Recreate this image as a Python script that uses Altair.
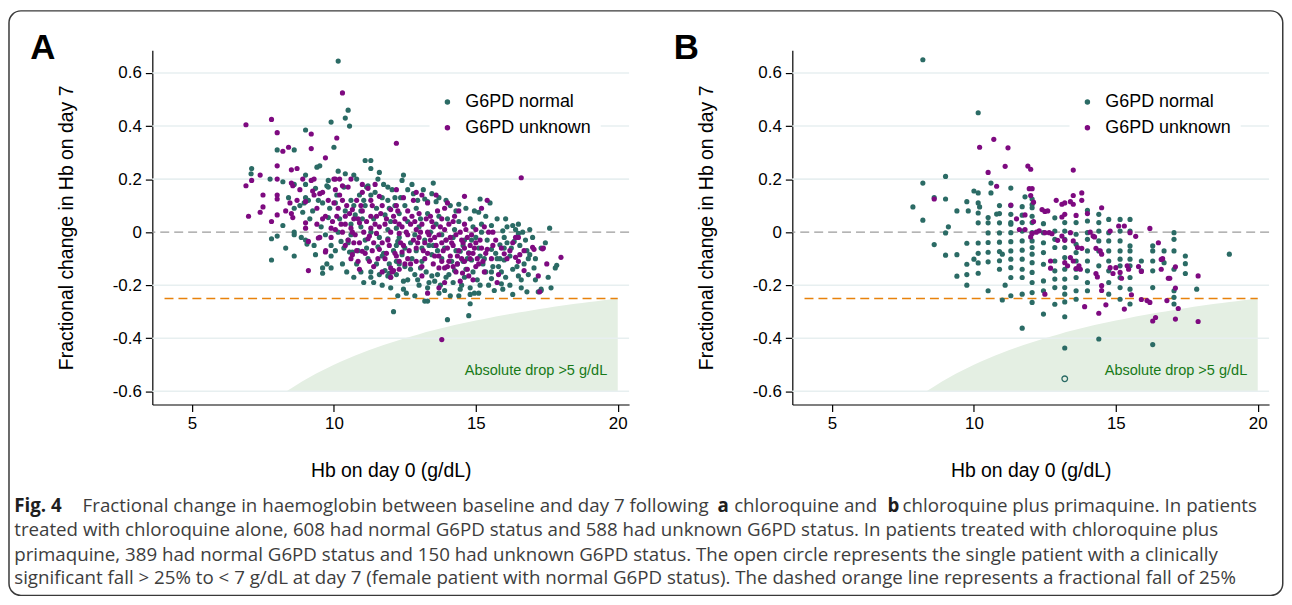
import altair as alt
import pandas as pd

# ---------------- data ----------------
STATUS = ["G6PD normal", "G6PD unknown"]
X_TICKS = [5, 10, 15, 20]
Y_TICKS = [-0.6, -0.4, -0.2, 0, 0.2, 0.4, 0.6]
GRID_VALUES = [-0.6, -0.4, -0.2, 0.2, 0.4, 0.6]
ZERO_VALUE = [0]
FALL_25 = [-0.25]
FALL_25_HB = [4.03, 20.0]
DROP_LIMIT = 5.0          # absolute drop of 5 g/dL -> fractional change of -5/Hb
DROP_FLOOR = -0.6
DROP_HB = [8.33, 8.5, 8.75, 9.0, 9.25, 9.5, 9.75, 10.0, 10.5, 11.0, 11.5, 12.0, 12.5,
           13.0, 13.5, 14.0, 14.5, 15.0, 15.5, 16.0, 16.5, 17.0, 17.5, 18.0, 18.5,
           19.0, 19.5, 20.0]
DROP_LABEL = "Absolute drop >5 g/dL"
DROP_LABEL_POS = [(19.63, -0.525)]
X_TITLE = "Hb on day 0 (g/dL)"
Y_TITLE = "Fractional change in Hb on day 7"

A_NORMAL = [
    (10.15, 0.645), (10.5, 0.46), (10.4, 0.43), (10.55, 0.40), (9.9, 0.415), (10.0, 0.32), (9.0, 0.385),
    (8.0, 0.31), (8.6, 0.31), (7.1, 0.24), (7.08, 0.22), (8.2, 0.19), (9.4, 0.245), (9.5, 0.25), (11.1, 0.27),
    (11.3, 0.27), (11.3, 0.24), (11.6, 0.225), (10.15, 0.23), (10.4, 0.22), (10.7, 0.215), (10.8, 0.2),
    (9.8, 0.195), (9.0, 0.215), (9.0, 0.18), (8.6, 0.18), (9.75, 0.175), (9.35, 0.165), (9.0, 0.13),
    (8.8, 0.10), (8.6, 0.09), (11.2, 0.175), (11.9, 0.17), (12.05, 0.16),
    (7.8, -0.025), (8.0, -0.015), (7.8, -0.105), (8.2, 0.025), (8.6, 0.0), (8.6, -0.01), (8.6, -0.09),
    (9.0, -0.03), (9.05, -0.045), (8.9, 0.075), (9.1, 0.12), (9.35, -0.085), (9.6, -0.135), (9.6, -0.155),
    (9.75, -0.12), (9.9, -0.135), (9.9, -0.09), (9.9, -0.05), (10.25, -0.035), (10.5, -0.04), (10.55, -0.075),
    (10.85, -0.07), (11.3, -0.15), (11.3, -0.17), (11.7, -0.2), (12.1, -0.3), (11.9, -0.165), (12.0, -0.17),
    (12.2, -0.11), (11.7, -0.09), (10.65, -0.075), (10.5, -0.03), (10.15, 0.0), (9.8, 0.055), (9.8, 0.17),
    (11.15, 0.17), (11.9, 0.12), (12.15, 0.13), (10.9, 0.14), (9.6, 0.11), (9.25, 0.08), (8.95, 0.11),
    (10.05, 0.11), (10.4, 0.08), (10.75, 0.065), (11.1, 0.1), (11.5, 0.09), (11.8, 0.065), (12.0, 0.04),
    (12.2, 0.015), (10.95, 0.02), (10.6, -0.01), (11.15, -0.06), (11.55, -0.055), (11.9, -0.025),
    (11.75, -0.08), (12.1, -0.07), (12.25, -0.035),
    (12.45, 0.215), (12.4, 0.195), (12.75, 0.18), (13.5, 0.185), (13.45, 0.145), (12.8, 0.145), (13.2, 0.125),
    (13.3, 0.115), (13.6, 0.115), (14.1, 0.1), (14.4, 0.105), (15.15, 0.125), (15.5, 0.11), (15.1, 0.075),
    (15.2, 0.03), (15.55, 0.025), (15.95, 0.005), (16.3, 0.025), (16.5, 0.03), (16.65, 0.0), (16.5, -0.005),
    (17.6, 0.015), (16.35, -0.035), (16.1, -0.04), (16.0, -0.06), (15.75, -0.1), (15.85, -0.1), (16.0, -0.105),
    (16.3, -0.14), (16.5, -0.165), (16.8, -0.07), (16.9, -0.085), (17.05, -0.135), (17.8, -0.135),
    (17.85, -0.125), (17.3, -0.215), (17.2, -0.225), (16.8, -0.225), (16.6, -0.21), (16.3, -0.235),
    (15.95, -0.215), (15.9, -0.195), (15.55, -0.15), (15.55, -0.175), (15.35, -0.15), (15.15, -0.2),
    (15.1, -0.23), (14.95, -0.23), (14.8, -0.21), (14.8, -0.235), (14.45, -0.215), (14.4, -0.24),
    (14.1, -0.24), (14.0, -0.33), (14.75, -0.315), (13.3, -0.21), (13.2, -0.26), (12.85, -0.24),
    (12.45, -0.215), (12.45, -0.185), (11.8, -0.145), (11.95, -0.155), (12.3, -0.12), (12.7, -0.14),
    (13.05, -0.135), (13.45, -0.165), (13.55, -0.185), (13.95, -0.17), (14.25, -0.145), (14.55, -0.11),
    (14.85, -0.105), (15.1, -0.06), (15.55, -0.065), (15.85, -0.048), (12.4, -0.085), (12.75, -0.1),
    (13.1, -0.11), (13.45, -0.085), (13.8, -0.1), (14.15, -0.11), (14.45, -0.072), (14.75, -0.078),
    (12.5, 0.1), (12.9, 0.09), (13.3, 0.07), (13.7, 0.06), (14.0, 0.05), (14.4, 0.04), (14.8, 0.05),
    (12.6, 0.04), (13.0, 0.02), (13.4, 0.0), (13.8, -0.01), (14.2, -0.02), (14.6, -0.03), (15.0, -0.02),
    (12.3, -0.02), (12.7, -0.04), (13.1, -0.06), (13.5, -0.05), (13.9, -0.06), (14.3, -0.07), (14.7, -0.1),
    (15.3, -0.1), (15.6, -0.13), (15.2, 0.0), (11.4, 0.05), (11.0, 0.05), (10.6, 0.03), (10.2, 0.05),
    (11.3, 0.14), (11.7, 0.13), (12.3, 0.07), (10.3, -0.12), (10.8, -0.12), (11.2, -0.1), (11.4, -0.19),
    (12.0, -0.21), (12.6, -0.18), (13.0, -0.2), (13.7, -0.23), (14.2, -0.19), (14.6, -0.17), (15.9, -0.15),
    (16.2, -0.09), (16.7, -0.12), (17.1, -0.18), (16.1, 0.02), (16.9, 0.01), (17.3, -0.06), (14.9, 0.02),
    (13.6, 0.03), (13.2, -0.03), (12.9, -0.07), (11.1, -0.03), (13.3, -0.26), (14.8, -0.27), (17.3, -0.22),
    (9.55, 0.02), (9.7, -0.01), (9.85, 0.09), (10.1, 0.14), (10.35, 0.17), (10.6, 0.12), (10.7, 0.1),
    (10.95, 0.08), (11.05, 0.12), (11.45, 0.15), (11.55, 0.2), (11.75, 0.18), (11.95, 0.09), (12.15, 0.1),
    (12.35, 0.13), (12.6, 0.16), (12.95, 0.12), (13.15, 0.16), (13.7, 0.13), (13.95, 0.12), (14.3, 0.08),
    (14.65, 0.09), (14.95, 0.08), (15.35, 0.06), (15.75, 0.05), (16.05, 0.05), (16.4, 0.01), (16.75, -0.03),
    (17.0, -0.02), (17.45, -0.04),
    (10.05, -0.07), (10.35, -0.06), (10.45, -0.15), (10.7, -0.17), (10.95, -0.15), (11.05, -0.19),
    (11.5, -0.12), (11.6, -0.16), (11.95, -0.12), (12.2, -0.16), (12.25, -0.24), (12.5, -0.13),
    (12.55, -0.23), (12.85, -0.16), (12.95, -0.18), (13.25, -0.15), (13.35, -0.19), (13.65, -0.16),
    (13.75, -0.2), (13.9, -0.22), (14.05, -0.16), (14.35, -0.12), (14.5, -0.2), (14.65, -0.14),
    (14.9, -0.15), (15.05, -0.18), (15.25, -0.12), (15.45, -0.2), (15.65, -0.22), (15.8, -0.13),
    (16.05, -0.17), (16.2, -0.2), (16.45, -0.13), (16.6, -0.18), (16.85, -0.16), (17.1, -0.1),
    (17.55, -0.17), (17.65, -0.21),
    (11.3, 0.0), (11.6, -0.02), (11.9, 0.01), (12.2, -0.05), (12.5, -0.06), (12.85, -0.01), (13.05, 0.05),
    (13.35, -0.05), (13.65, -0.07), (13.95, -0.03), (14.25, 0.01), (14.55, -0.05), (14.85, -0.03),
    (15.15, -0.09), (15.4, -0.03), (15.7, -0.08), (16.0, -0.02), (16.25, -0.06), (16.55, -0.05),
    (16.85, -0.1), (9.3, -0.05), (9.15, 0.05), (9.45, 0.12), (8.85, -0.02), (8.4, 0.13), (8.3, -0.06),
    (7.75, 0.2),
]

A_UNKNOWN = [
    (10.3, 0.525), (6.9, 0.405), (7.8, 0.425), (8.0, 0.375), (9.2, 0.37), (9.2, 0.315), (8.2, 0.305),
    (8.4, 0.32), (10.1, 0.355), (9.7, 0.28), (12.2, 0.335), (8.0, 0.25), (8.5, 0.235), (8.7, 0.24),
    (7.4, 0.215), (6.9, 0.175), (7.1, 0.195), (8.0, 0.2), (8.5, 0.185), (8.55, 0.175), (8.9, 0.2),
    (9.2, 0.195), (10.0, 0.2), (10.2, 0.2), (10.5, 0.17), (9.6, 0.15), (7.5, 0.14), (8.0, 0.14),
    (8.0, 0.125), (7.5, 0.095), (8.45, 0.11), (8.8, 0.16), (9.0, 0.115), (9.25, 0.155), (9.5, 0.145),
    (11.0, 0.18), (11.6, 0.135),
    (6.99, 0.06), (7.4, 0.075), (7.8, 0.04), (8.0, 0.065), (8.5, 0.07), (8.55, 0.055), (9.0, 0.035),
    (9.0, 0.015), (9.1, -0.035), (9.1, -0.145), (9.5, -0.02), (9.7, -0.075), (9.3, 0.14), (9.4, 0.09),
    (10.05, 0.2), (10.3, 0.175), (10.2, 0.14), (10.0, 0.11), (9.95, 0.04), (9.9, 0.015), (10.05, 0.01),
    (10.25, 0.03), (10.4, 0.06), (10.65, 0.085), (10.8, 0.12), (11.0, 0.15), (11.2, 0.165), (11.45, 0.18),
    (11.7, 0.1), (12.0, 0.085), (12.2, 0.1), (10.3, 0.0), (10.6, 0.015), (10.9, 0.035), (11.3, 0.015),
    (11.6, 0.02), (12.0, 0.0), (12.3, -0.005), (10.75, -0.01), (11.05, 0.0), (11.25, -0.015), (11.5, -0.005),
    (10.65, -0.085), (10.8, -0.07), (11.0, -0.072), (11.2, -0.025), (10.85, -0.11), (10.9, -0.14),
    (11.25, -0.11), (11.4, -0.13), (11.6, -0.065), (11.85, -0.08), (12.0, -0.135), (12.1, -0.145),
    (12.3, -0.11), (12.15, -0.08),
    (12.5, 0.05), (12.7, 0.03), (12.9, 0.01), (13.1, 0.03), (13.3, 0.0), (13.5, 0.02), (13.7, -0.01),
    (13.9, 0.01), (14.1, -0.02), (14.3, -0.01), (14.5, -0.03), (14.7, -0.02), (12.6, -0.01), (12.8, -0.03),
    (13.0, -0.02), (13.2, -0.04), (13.4, -0.03), (13.6, -0.05), (13.8, -0.04), (14.0, -0.06), (14.2, -0.05),
    (14.4, -0.07), (14.6, -0.06), (14.8, -0.05), (15.0, -0.04), (12.4, 0.02), (12.45, -0.05), (12.9, -0.06),
    (13.3, -0.08), (13.7, -0.09), (14.1, -0.09), (14.5, -0.1), (14.9, -0.08), (15.2, -0.06), (12.6, 0.08),
    (13.0, 0.07), (13.4, 0.06), (13.8, 0.05), (14.2, 0.04), (14.6, 0.03), (15.0, 0.01), (12.8, 0.12),
    (13.3, 0.11), (13.9, 0.09), (14.4, 0.08), (14.6, 0.135), (13.6, 0.14), (12.9, 0.15), (12.2, 0.16),
    (16.6, 0.205), (15.3, 0.02), (15.6, 0.0), (16.4, -0.02), (16.5, -0.02), (17.0, -0.057), (17.05, -0.065),
    (17.35, -0.063), (16.55, -0.085), (16.4, -0.095), (16.2, -0.07), (16.0, -0.082), (15.6, -0.05),
    (15.4, -0.065), (15.25, -0.11), (15.1, -0.12), (14.8, -0.1), (14.7, -0.14), (14.3, -0.15), (13.9, -0.135),
    (17.2, -0.165), (17.5, -0.12), (18.0, -0.095), (17.25, -0.225), (13.8, -0.405), (13.3, -0.23),
    (13.7, -0.21), (13.9, -0.19), (15.8, -0.16), (15.75, -0.19), (16.5, -0.11), (16.7, -0.145),
    (14.75, -0.165), (14.45, -0.185), (13.7, -0.135), (13.1, -0.165), (12.7, -0.12), (12.4, -0.075),
    (12.05, -0.15), (12.0, -0.17), (11.8, -0.1), (14.0, -0.13), (14.9, -0.18), (15.3, -0.15),
    (12.5, -0.12), (13.5, -0.12), (14.2, -0.13), (11.5, 0.06), (11.8, 0.03), (12.15, 0.04), (10.45, 0.1),
    (9.7, 0.06), (9.4, 0.03), (9.71, -0.07), (9.45, -0.022), (14.53, -0.154), (17.38, -0.06),
    (10.1, 0.06), (10.4, 0.03), (10.7, 0.05), (11.0, 0.08), (11.3, 0.06), (10.5, -0.03), (10.9, -0.04),
    (11.4, -0.04), (11.9, -0.03), (12.3, 0.03),
    (10.15, 0.09), (10.3, 0.12), (10.55, 0.07), (10.65, 0.0), (10.85, 0.05), (10.95, 0.1), (11.15, 0.04),
    (11.35, 0.1), (11.45, 0.03), (11.65, 0.07), (11.85, 0.05), (11.95, -0.05), (12.1, 0.06), (12.25, 0.08),
    (12.35, -0.04), (12.55, 0.0), (12.65, -0.07), (12.75, 0.06), (12.85, 0.04), (12.95, -0.04),
    (13.05, 0.0), (13.15, -0.07), (13.25, 0.05), (13.35, -0.01), (13.45, 0.04), (13.55, -0.02),
    (13.65, 0.08), (13.75, 0.02), (13.85, -0.07), (13.95, -0.03), (14.05, 0.03), (14.15, -0.04),
    (14.25, 0.06), (14.35, -0.09), (14.45, 0.0), (14.55, -0.04), (14.65, 0.01), (14.75, -0.08),
    (14.85, -0.01), (14.95, -0.06), (15.05, -0.1), (15.15, -0.03), (15.35, -0.08), (15.45, 0.0),
    (15.55, -0.1), (15.7, -0.03), (15.9, -0.06), (16.1, -0.1), (16.3, -0.04), (16.7, -0.07),
    (10.4, -0.05), (10.6, -0.1), (10.7, -0.04), (11.1, -0.08), (11.35, -0.07), (11.55, -0.1), (11.7, -0.04),
    (12.2, -0.09), (12.6, -0.1), (12.9, -0.11), (13.2, -0.1), (13.55, -0.09), (13.8, -0.11), (14.05, -0.11),
    (14.35, -0.12), (14.6, -0.11), (15.0, -0.13), (13.1, -0.13), (12.3, -0.14), (11.7, -0.15),
    (9.6, 0.05), (9.8, 0.12), (9.3, 0.2), (8.7, 0.12), (8.3, 0.08), (9.9, -0.02), (10.05, 0.16),
    (10.6, 0.2), (11.3, 0.12), (12.45, 0.13), (13.1, 0.14), (14.0, 0.11), (15.2, 0.09), (15.4, 0.12),
]

B_NORMAL = [
    (8.2, 0.65), (10.15, 0.45), (8.2, 0.185), (8.2, 0.045), (9.0, 0.21), (7.85, 0.095), (8.6, 0.13),
    (9.0, 0.125), (9.1, 0.02), (9.0, -0.003), (9.4, 0.08), (9.75, 0.115), (9.8, 0.08), (10.0, 0.155),
    (10.15, 0.148), (10.15, 0.11), (10.2, 0.095), (10.15, 0.072), (10.15, 0.035), (10.6, 0.185),
    (10.6, 0.148), (10.5, 0.055), (10.5, 0.035), (10.5, -0.003), (10.8, 0.068), (10.9, 0.1), (11.3, 0.166),
    (11.3, 0.1), (11.3, 0.03), (11.7, 0.096), (11.8, 0.133), (12.05, 0.092),
    (8.6, -0.047), (9.0, -0.087), (9.4, -0.085), (9.4, -0.166), (9.75, -0.042), (9.75, -0.121),
    (9.75, -0.16), (9.75, -0.2), (10.0, -0.102), (10.15, -0.041), (10.15, -0.08), (10.15, -0.116),
    (10.15, -0.155), (10.5, -0.039), (10.5, -0.076), (10.5, -0.112), (10.5, -0.221), (10.9, -0.003),
    (10.9, -0.038), (10.9, -0.073), (11.0, -0.083), (10.9, -0.108), (11.1, -0.2), (11.0, -0.256),
    (10.9, 0.07), (10.9, 0.035), (10.9, -0.14),
    (11.3, 0.067), (11.3, 0.036), (11.3, -0.002), (11.3, -0.036), (11.3, -0.071), (11.3, -0.102),
    (11.3, -0.134), (11.3, -0.171), (11.3, -0.24),
    (11.7, 0.064), (11.7, 0.036), (11.7, 0.004), (11.7, -0.033), (11.7, -0.068), (11.7, -0.102),
    (11.7, -0.14), (11.7, -0.171), (11.7, -0.234), (11.7, -0.362),
    (12.05, 0.06), (12.05, 0.036), (12.05, -0.002), (12.05, -0.033), (12.05, -0.058), (12.05, -0.083),
    (12.05, -0.115), (12.05, -0.152), (12.05, -0.19), (12.05, -0.228), (12.05, -0.265), (12.05, 0.104),
    (12.05, 0.125),
    (12.45, 0.032), (12.45, -0.002), (12.45, -0.04), (12.45, -0.077), (12.45, -0.121), (12.45, -0.184),
    (12.45, -0.221), (12.45, -0.309),
    (12.85, 0.054), (12.85, 0.004), (12.85, -0.027), (12.85, -0.058), (12.85, -0.109), (12.85, -0.146),
    (12.85, -0.177), (12.85, -0.209), (12.85, -0.272),
    (13.2, 0.036), (13.2, 0.004), (13.2, -0.027), (13.2, -0.058), (13.2, -0.096), (13.2, -0.14),
    (13.2, -0.177), (13.2, -0.209), (13.2, -0.234), (13.2, -0.263), (13.2, -0.319), (13.2, -0.437),
    (13.6, 0.036), (13.6, -0.008), (13.6, -0.046), (13.6, -0.077), (13.6, -0.109), (13.6, -0.14),
    (13.6, -0.171), (13.6, -0.221), (13.6, -0.253),
    (14.0, 0.082), (14.0, 0.042), (14.0, -0.002), (14.0, -0.027), (14.0, -0.071), (14.0, -0.109),
    (14.0, -0.146), (14.0, -0.19), (14.0, -0.221),
    (14.4, 0.067), (14.4, 0.036), (14.4, 0.004), (14.4, -0.033), (14.4, -0.071), (14.4, -0.127),
    (14.4, -0.403),
    (14.75, 0.048), (14.75, -0.002), (14.75, -0.033), (14.75, -0.071), (14.75, -0.109), (14.75, -0.146),
    (14.75, -0.19), (14.75, -0.234),
    (15.15, 0.048), (15.15, 0.004), (15.15, -0.033), (15.15, -0.071), (15.15, -0.102), (15.15, -0.127),
    (15.15, -0.171), (15.15, -0.209), (15.15, -0.253),
    (15.5, 0.048), (15.5, 0.004), (15.5, -0.052), (15.5, -0.071), (15.5, -0.102), (15.5, -0.127),
    (15.5, -0.171), (15.5, -0.215), (15.5, -0.271),
    (15.9, -0.109), (15.9, -0.146),
    (16.3, -0.052), (16.3, -0.071), (16.3, -0.109), (16.3, -0.146), (16.3, -0.209), (16.3, -0.424),
    (16.7, -0.071), (16.7, -0.115),
    (17.05, -0.002), (17.05, -0.027), (17.05, -0.071), (17.05, -0.14), (17.05, -0.221), (17.05, -0.246),
    (17.05, -0.271),
    (17.45, -0.09), (17.45, -0.119), (17.45, -0.156),
    (17.85, -0.215), (19.0, -0.083),
]

B_UNKNOWN = [
    (10.2, 0.32), (10.7, 0.35), (11.2, 0.318), (10.5, 0.225), (11.1, 0.248), (10.8, 0.173), (11.9, 0.249),
    (12.0, 0.237), (11.95, 0.164), (12.05, 0.164), (12.0, 0.138), (12.1, 0.113), (8.6, 0.125), (11.3, 0.102),
    (11.5, 0.05), (11.8, 0.065), (12.1, 0.04), (12.4, 0.085), (12.5, 0.078), (11.6, 0.01), (11.8, 0.01),
    (12.05, -0.005), (12.3, 0.005),
    (13.5, 0.234), (12.6, 0.08), (12.9, 0.12), (13.1, 0.105), (13.2, 0.11), (13.4, 0.115), (13.5, 0.105),
    (13.5, 0.138), (13.8, 0.148), (13.8, 0.12), (14.0, 0.07), (14.5, 0.092), (13.1, 0.057), (13.2, 0.067),
    (13.6, 0.063), (12.2, 0.0), (12.5, -0.002), (12.65, -0.002), (12.75, -0.006), (12.0, -0.018),
    (12.95, -0.031), (13.1, -0.015), (13.2, -0.031), (13.4, -0.002), (13.5, -0.033), (13.65, -0.058),
    (13.8, -0.061), (14.1, 0.0), (14.2, -0.015), (14.25, -0.018), (14.3, -0.061), (14.45, -0.071),
    (14.5, -0.083), (14.8, 0.004), (15.1, 0.023), (15.3, 0.023), (15.5, -0.002), (15.7, -0.016),
    (16.2, 0.014), (16.5, -0.04), (16.6, -0.103), (16.85, -0.174), (17.1, -0.131), (17.1, -0.211),
    (17.1, -0.328), (17.2, -0.288), (17.9, -0.165), (17.9, -0.337), (16.3, -0.335), (16.4, -0.322),
    (15.9, -0.254), (16.1, -0.258), (16.2, -0.265), (16.8, -0.258), (13.9, -0.281), (14.4, -0.306),
    (14.65, -0.274), (15.3, -0.29), (15.55, -0.236), (12.5, -0.234), (12.7, -0.136), (13.2, -0.115),
    (13.3, -0.127), (13.4, -0.096), (13.5, -0.109), (13.6, -0.137), (13.75, -0.14), (13.7, -0.127),
    (12.7, -0.109), (14.3, -0.156), (14.35, -0.169), (14.5, -0.202), (14.5, -0.22), (14.8, -0.134),
    (14.9, -0.156), (15.0, -0.134), (15.15, -0.152), (15.2, -0.174), (15.4, -0.127), (15.45, -0.14),
    (15.8, -0.13), (15.9, -0.148), (16.6, -0.14), (16.65, -0.1), (16.9, -0.174),
]

B_OPEN = [(13.2, -0.553)]

CAPTION = [
    ["Fig. 4", "Fractional change in haemoglobin between baseline and day 7 following", "a",
     "chloroquine and", "b", "chloroquine plus primaquine. In patients"],
    ["treated with chloroquine alone, 608 had normal G6PD status and 588 had unknown G6PD status. "
     "In patients treated with chloroquine plus"],
    ["primaquine, 389 had normal G6PD status and 150 had unknown G6PD status. "
     "The open circle represents the single patient with a clinically"],
    ["significant fall > 25% to < 7 g/dL at day 7 (female patient with normal G6PD status). "
     "The dashed orange line represents a fractional fall of 25%"],
]
CAPTION_BOLD = [[True, False, True, False, True, False], [False], [False], [False]]

# ---------------- style / layout ----------------
TEAL = "#2b6b65"
PURPLE = "#7e0a80"
ORANGE = "#e8820c"
SHADE = "#e4efe3"
GRID = "#e7eff0"
GREEN = "#187a18"
FONT = "Liberation Sans"
CAP_FONT = "Open Sans"
CAP_SIZE = 18.8

W, H = 479, 356
SPACING = 164
X_DOMAIN = [3.6, 20.4]
Y_DOMAIN = [-0.65, 0.686]
OX, OY = 152.75, 48.25          # page position of panel A plot origin


def px(page_x):
    return page_x - OX


def py(page_y):
    return page_y - OY


CAP_X = [[14, 82.7, 720.7, 737.3, 891.5, 906.5], [14], [14], [14]]
CAP_BASE = [512, 536, 561, 585]


def enc_x():
    return alt.X("hb:Q", scale=alt.Scale(domain=X_DOMAIN, nice=False, zero=False),
                 axis=alt.Axis(values=X_TICKS, title=X_TITLE, labelExpr="'' + datum.value",
                               labelFlush=False, titlePadding=30, labelPadding=4))


def enc_y():
    return alt.Y("chg:Q", scale=alt.Scale(domain=Y_DOMAIN, nice=False, zero=False),
                 axis=alt.Axis(values=Y_TICKS, title=Y_TITLE, labelExpr="'' + datum.value",
                               titlePadding=36, labelPadding=4))


def text_layer(txt, x, y, **kw):
    return alt.Chart(pd.DataFrame({"t": [txt]})).mark_text(**kw).encode(
        x=alt.value(x), y=alt.value(y), text="t:N")


def panel(normal, unknown, open_pts, letter, letter_x, extras):
    area_df = pd.DataFrame({"hb": DROP_HB,
                            "chg": [-DROP_LIMIT / h for h in DROP_HB],
                            "base": [DROP_FLOOR] * len(DROP_HB)})
    area = alt.Chart(area_df).mark_area(color=SHADE, interpolate="monotone").encode(
        x=enc_x(), y=enc_y(), y2="base:Q")
    grid = alt.Chart(pd.DataFrame({"chg": GRID_VALUES})).mark_rule(
        color=GRID, strokeWidth=1.6).encode(y=enc_y())
    zero = alt.Chart(pd.DataFrame({"chg": ZERO_VALUE})).mark_rule(
        color="#9c9c9c", strokeWidth=1.4, strokeDash=[9, 5]).encode(y=enc_y())
    fall = alt.Chart(pd.DataFrame({"hb": [FALL_25_HB[0]], "hb2": [FALL_25_HB[1]], "chg": FALL_25})).mark_rule(
        color=ORANGE, strokeWidth=1.6, strokeDash=[9, 5]).encode(x=enc_x(), x2="hb2:Q", y=enc_y())
    lab = alt.Chart(pd.DataFrame({"hb": [p[0] for p in DROP_LABEL_POS],
                                  "chg": [p[1] for p in DROP_LABEL_POS],
                                  "t": [DROP_LABEL]})).mark_text(
        align="right", baseline="middle", fontSize=14.6, color=GREEN, font=FONT).encode(
        x=enc_x(), y=enc_y(), text="t:N")
    pts_df = pd.DataFrame(
        [{"hb": a, "chg": b, "status": STATUS[0]} for a, b in normal]
        + [{"hb": a, "chg": b, "status": STATUS[1]} for a, b in unknown])
    pts = alt.Chart(pts_df).mark_circle(size=27, opacity=1).encode(
        x=enc_x(), y=enc_y(),
        color=alt.Color("status:N", scale=alt.Scale(domain=STATUS, range=[TEAL, PURPLE]),
                        legend=alt.Legend(orient="none", legendX=278.5, legendY=34, title=None,
                                          fillColor="white", padding=9, symbolSize=30,
                                          symbolType="circle", symbolStrokeWidth=0,
                                          labelFontSize=18, labelFont=FONT, labelColor="black",
                                          rowPadding=8, labelOffset=9)))
    layers = [area, grid, zero, fall, lab, pts]
    if open_pts:
        op = alt.Chart(pd.DataFrame({"hb": [p[0] for p in open_pts],
                                     "chg": [p[1] for p in open_pts]})).mark_point(
            shape="circle", filled=False, color=TEAL, size=32, strokeWidth=1.3, opacity=1).encode(
            x=enc_x(), y=enc_y())
        layers.append(op)
    layers.append(text_layer(letter, letter_x, py(56.7), align="left", baseline="alphabetic",
                             fontSize=35, fontWeight="bold", color="black", font=FONT))
    layers.extend(extras)
    return alt.layer(*layers).properties(width=W, height=H)


# caption and frame (drawn from panel A's coordinate system)
extras = []
for li, segs in enumerate(CAPTION):
    for si, seg in enumerate(segs):
        bold = CAPTION_BOLD[li][si]
        extras.append(text_layer(seg, px(CAP_X[li][si]), py(CAP_BASE[li]), align="left",
                                 baseline="alphabetic", fontSize=CAP_SIZE, font=CAP_FONT,
                                 fontWeight="bold" if bold else "normal",
                                 color="#1e1e1e" if bold else "#3d3d3d"))
frame = alt.Chart(pd.DataFrame({"k": [0]})).mark_rect(
    cornerRadius=12, fillOpacity=0, stroke="#3a3a3a", strokeWidth=1.5).encode(
    x=alt.value(px(8.75)), x2=alt.value(px(1288.5)), y=alt.value(py(8.75)), y2=alt.value(py(596)))
extras.append(frame)

panel_a = panel(A_NORMAL, A_UNKNOWN, [], "A", px(30), extras)
panel_b = panel(B_NORMAL, B_UNKNOWN, B_OPEN, "B", 676.6 - (OX + W + SPACING), [])

chart = (
    alt.hconcat(panel_a, panel_b, spacing=SPACING, bounds="flush")
    .resolve_scale(x="independent", y="independent", color="independent")
    .resolve_axis(x="independent", y="independent")
    .resolve_legend(color="independent")
    .properties(padding=0)
    .configure_view(strokeWidth=0)
    .configure_axis(domainColor="black", domainWidth=1.2, tickColor="black", tickWidth=1.2,
                    tickSize=7, labelFontSize=17, labelColor="black", labelFont=FONT,
                    titleFont=FONT, titleFontSize=19.5, titleFontWeight="normal",
                    titleColor="black", grid=False)
)

chart.save("out.html", embed_options={"renderer": "svg", "actions": False})
